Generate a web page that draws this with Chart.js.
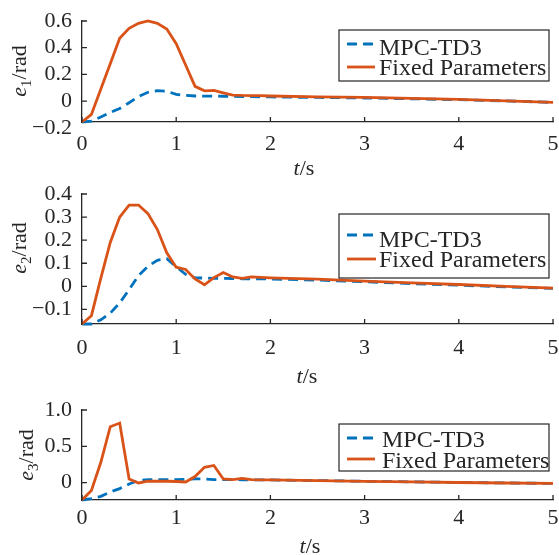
<!DOCTYPE html>
<html>
<head>
<meta charset="utf-8">
<title>Tracking errors</title>
<script src="https://cdn.jsdelivr.net/npm/chart.js@4.4.1/dist/chart.umd.min.js"></script>
<style>
    html, body { margin: 0; padding: 0; background: #fff; }
    body { width: 559px; height: 555px; position: relative; overflow: hidden; }
    canvas { position: absolute; left: 0; }
</style>
</head>
<body>
<canvas id="chartE1" width="559" height="190" style="top:0px"></canvas>
<canvas id="chartE2" width="559" height="220" style="top:170px"></canvas>
<canvas id="chartE3" width="559" height="175" style="top:380px"></canvas>
<script>
// Time samples (s)
const timeS = [0, 0.1, 0.2, 0.3, 0.4, 0.5, 0.6, 0.7, 0.8, 0.9, 1.0,
               1.1, 1.2, 1.3, 1.4, 1.5, 1.6, 1.7, 1.8, 1.9, 2.0,
               2.5, 3.0, 3.5, 4.0, 4.5, 5.0];

const seriesNames = ['MPC-TD3', 'Fixed Parameters'];

// e1 (rad)
const e1Mpc = [-0.157, -0.15, -0.12, -0.086, -0.056, -0.013, 0.033, 0.066, 0.078, 0.073, 0.05,
               0.043, 0.038, 0.037, 0.037, 0.036, 0.035, 0.034, 0.033, 0.032, 0.031,
               0.027, 0.023, 0.017, 0.01, 0.001, -0.01];
const e1Fixed = [-0.157, -0.10, 0.09, 0.28, 0.47, 0.545, 0.583, 0.60, 0.583, 0.54, 0.43,
                 0.27, 0.11, 0.077, 0.08, 0.062, 0.045, 0.042, 0.041, 0.04, 0.038,
                 0.032, 0.027, 0.02, 0.012, 0.002, -0.01];

// e2 (rad)
const e2Mpc = [-0.163, -0.163, -0.145, -0.116, -0.072, -0.014, 0.047, 0.087, 0.113, 0.12, 0.085,
               0.052, 0.037, 0.036, 0.035, 0.035, 0.034, 0.033, 0.033, 0.032, 0.032,
               0.027, 0.02, 0.012, 0.005, -0.002, -0.009];
const e2Fixed = [-0.163, -0.127, 0.036, 0.19, 0.30, 0.352, 0.352, 0.315, 0.246, 0.145, 0.083,
                 0.073, 0.032, 0.007, 0.038, 0.06, 0.041, 0.035, 0.041, 0.039, 0.037,
                 0.031, 0.023, 0.015, 0.008, 0.0, -0.008];

// e3 (rad)
const e3Mpc = [-0.24, -0.22, -0.19, -0.13, -0.083, -0.02, 0.028, 0.04, 0.04, 0.04, 0.042,
               0.045, 0.05, 0.05, 0.042, 0.04, 0.04, 0.039, 0.038, 0.037, 0.036,
               0.028, 0.018, 0.01, 0.002, -0.005, -0.012];
const e3Fixed = [-0.24, -0.11, 0.28, 0.77, 0.82, 0.05, -0.005, 0.02, 0.018, 0.018, 0.015,
                 0.008, 0.083, 0.21, 0.236, 0.05, 0.04, 0.058, 0.042, 0.038, 0.036,
                 0.027, 0.017, 0.009, 0.001, -0.006, -0.011];

// Tick values and labels
const xTicks = [0, 1, 2, 3, 4, 5];
const e1Ticks = [-0.2, 0, 0.2, 0.4, 0.6];
const e1TickLabels = ['\u22120.2', '0', '0.2', '0.4', '0.6'];
const e2Ticks = [-0.1, 0, 0.1, 0.2, 0.3, 0.4];
const e2TickLabels = ['\u22120.1', '0', '0.1', '0.2', '0.3', '0.4'];
const e3Ticks = [0, 0.5, 1.0];
const e3TickLabels = ['0', '0.5', '1.0'];

const SERIF = "'Liberation Serif', 'Times New Roman', serif";
const AXIS_COLOR = '#262626';
const BLUE = '#0072BD';
const ORANGE = '#D95319';

// Inward tick marks (MATLAB style)
const inwardTicks = {
    id: 'inwardTicks',
    afterDraw(chart) {
        const ctx = chart.ctx;
        const xs = chart.scales.x, ys = chart.scales.y;
        ctx.save();
        ctx.strokeStyle = AXIS_COLOR;
        ctx.lineWidth = 1.3;
        ctx.beginPath();
        xs.ticks.forEach(t => {
            const px = xs.getPixelForValue(t.value);
            ctx.moveTo(px, ys.bottom);
            ctx.lineTo(px, ys.bottom - 5);
        });
        ys.ticks.forEach(t => {
            if (t.value < ys.min || t.value > ys.max) return;
            const py = ys.getPixelForValue(t.value);
            ctx.moveTo(xs.left, py);
            ctx.lineTo(xs.left + 5, py);
        });
        ctx.stroke();
        ctx.restore();
    }
};

// Axis titles with italic symbol and subscript
const axisTitles = {
    id: 'axisTitles',
    afterDraw(chart, args, opts) {
        const ctx = chart.ctx;
        ctx.save();
        ctx.fillStyle = AXIS_COLOR;
        ctx.textBaseline = 'alphabetic';
        ctx.textAlign = 'left';

        // y title, rotated
        const main = 'italic 22px ' + SERIF, sub = '15px ' + SERIF, rest = '22px ' + SERIF;
        ctx.font = main; const w1 = ctx.measureText('e').width;
        ctx.font = sub; const w2 = ctx.measureText(opts.sub).width;
        ctx.font = rest; const w3 = ctx.measureText('/rad').width;
        const total = w1 + w2 + w3;
        ctx.save();
        ctx.translate(opts.yBase, opts.yCenter);
        ctx.rotate(-Math.PI / 2);
        let x = -total / 2;
        ctx.font = main; ctx.fillText('e', x, 0); x += w1;
        ctx.font = sub; ctx.fillText(opts.sub, x, 5); x += w2;
        ctx.font = rest; ctx.fillText('/rad', x, 0);
        ctx.restore();

        // x title
        ctx.font = main; const t1 = ctx.measureText('t').width;
        ctx.font = rest; const t2 = ctx.measureText('/s').width;
        let xx = opts.xCenter - (t1 + t2) / 2;
        ctx.font = main; ctx.fillText('t', xx, opts.xBase); xx += t1;
        ctx.font = rest; ctx.fillText('/s', xx, opts.xBase);
        ctx.restore();
    }
};

// Boxed legend inside the axes
const boxLegend = {
    id: 'boxLegend',
    afterDraw(chart, args, opts) {
        const ctx = chart.ctx;
        const b = opts.box;
        ctx.save();
        ctx.fillStyle = '#fff';
        ctx.fillRect(b[0], b[1], b[2] - b[0], b[3] - b[1]);
        ctx.strokeStyle = AXIS_COLOR;
        ctx.lineWidth = 1.2;
        ctx.strokeRect(b[0], b[1], b[2] - b[0], b[3] - b[1]);
        ctx.font = '24px ' + SERIF;
        ctx.textBaseline = 'alphabetic';
        ctx.textAlign = 'left';
        chart.data.datasets.forEach((ds, i) => {
            ctx.save();
            ctx.strokeStyle = ds.borderColor;
            ctx.lineWidth = ds.borderWidth;
            ctx.setLineDash(ds.borderDash || []);
            ctx.beginPath();
            ctx.moveTo(opts.sample[0], opts.lineY[i]);
            ctx.lineTo(opts.sample[1], opts.lineY[i]);
            ctx.stroke();
            ctx.restore();
            ctx.fillStyle = AXIS_COLOR;
            ctx.fillText(ds.label, opts.textX, opts.textY[i]);
        });
        ctx.restore();
    }
};

function makeChart(canvasId, mpc, fixed, yMin, yMax, yTicks, yTickLabels, cfg) {
    const ctx = document.getElementById(canvasId);
    const tickFont = { family: SERIF, size: 22 };
    return new Chart(ctx, {
        type: 'line',
        data: {
            datasets: [
                {
                    label: seriesNames[0],
                    data: timeS.map((t, i) => ({ x: t, y: mpc[i] })),
                    borderColor: BLUE,
                    borderWidth: 2.8,
                    borderDash: [10, 6],
                    pointRadius: 0,
                    tension: 0,
                    clip: false,
                    order: 1
                },
                {
                    label: seriesNames[1],
                    data: timeS.map((t, i) => ({ x: t, y: fixed[i] })),
                    borderColor: ORANGE,
                    borderWidth: 2.8,
                    pointRadius: 0,
                    tension: 0,
                    clip: false,
                    order: 0
                }
            ]
        },
        options: {
            responsive: false,
            animation: false,
            events: [],
            layout: { padding: { top: cfg.padTop, right: 6, left: 0, bottom: 0 } },
            scales: {
                x: {
                    type: 'linear',
                    min: 0,
                    max: 5,
                    afterBuildTicks: s => { s.ticks = xTicks.map(v => ({ value: v })); },
                    afterFit: s => { s.height = cfg.xAxisH; s.paddingLeft = 0; s.paddingRight = 0; },
                    grid: { display: false, drawTicks: false },
                    border: { display: true, color: AXIS_COLOR, width: 1.3 },
                    ticks: {
                        autoSkip: false,
                        maxRotation: 0,
                        padding: cfg.xLabelPad,
                        color: AXIS_COLOR,
                        font: tickFont,
                        callback: v => String(v)
                    }
                },
                y: {
                    type: 'linear',
                    min: yMin,
                    max: yMax,
                    afterBuildTicks: s => { s.ticks = yTicks.map(v => ({ value: v })); },
                    afterFit: s => { s.width = 82; s.paddingTop = 0; s.paddingBottom = 0; },
                    grid: { display: false, drawTicks: false },
                    border: { display: true, color: AXIS_COLOR, width: 1.3 },
                    ticks: {
                        autoSkip: false,
                        padding: 10,
                        color: AXIS_COLOR,
                        font: tickFont,
                        callback: (v, i) => yTickLabels[i]
                    }
                }
            },
            plugins: {
                legend: { display: false },
                tooltip: { enabled: false },
                axisTitles: cfg.titles,
                boxLegend: cfg.legend
            }
        },
        plugins: [inwardTicks, axisTitles, boxLegend]
    });
}

makeChart('chartE1', e1Mpc, e1Fixed, -0.157, 0.6, e1Ticks, e1TickLabels, {
    padTop: 21, xAxisH: 68, xLabelPad: 9,
    titles: { sub: '1', yBase: 26, yCenter: 71, xCenter: 304, xBase: 175 },
    legend: { box: [339, 30, 549, 81], sample: [347, 375], textX: 379, textY: [55, 75], lineY: [44, 67] }
});

makeChart('chartE2', e2Mpc, e2Fixed, -0.163, 0.4, e2Ticks, e2TickLabels, {
    padTop: 24, xAxisH: 66, xLabelPad: 11,
    titles: { sub: '2', yBase: 26, yCenter: 78, xCenter: 307, xBase: 213 },
    legend: { box: [339, 44, 549, 108], sample: [347, 376], textX: 379, textY: [77, 97], lineY: [65, 89] }
});

makeChart('chartE3', e3Mpc, e3Fixed, -0.24, 1.0, e3Ticks, e3TickLabels, {
    padTop: 30, xAxisH: 55, xLabelPad: 5,
    titles: { sub: '3', yBase: 33, yCenter: 75, xCenter: 310, xBase: 173 },
    legend: { box: [339, 44, 549, 91], sample: [347, 375], textX: 382, textY: [67, 88], lineY: [58, 79] }
});
</script>
</body>
</html>
